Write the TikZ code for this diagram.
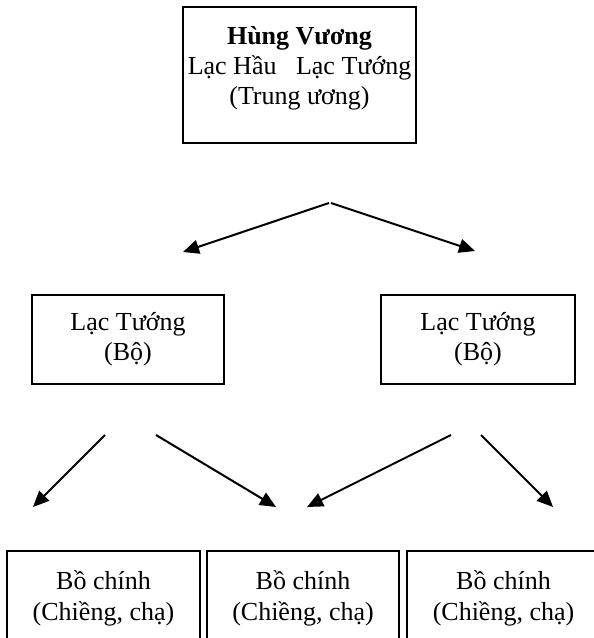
\documentclass[tikz,border=0pt]{standalone}
\usepackage{fontspec}
\setmainfont{Liberation Serif}
\usepackage{tikz}
\usetikzlibrary{arrows.meta}

\newcommand{\boxfont}{\fontsize{26pt}{30pt}\selectfont}

\begin{document}
\begin{tikzpicture}[x=1pt, y=1pt]
            \tikzstyle{unit} = [draw=black, line width=1.8pt, minimum height=89pt, inner sep=0pt, align=center, font=\boxfont];
            \tikzstyle{label} = [anchor=north, inner sep=0pt, align=center, font=\boxfont];
            \tikzstyle{link} = [line width=2pt, -{Triangle[length=16pt, width=14pt]}];
            \useasboundingbox (0,0) rectangle (594,638);

            % trung uong
            \node [unit, minimum width=233pt, minimum height=136pt] (HV) at (299.5,563) {};
            \node [label] (HVtext) at (299.5,612) {\textbf{Hùng Vương}\\Lạc Hầu\ \ \ Lạc Tướng\\(Trung ương)};

            % bo
            \node [unit, minimum width=192pt] (LT1) at (128,298.5) {Lạc Tướng\\(Bộ)};
            \node [unit, minimum width=194pt] (LT2) at (478,298.5) {Lạc Tướng\\(Bộ)};

            % chieng, cha
            \node [unit, minimum width=193pt, minimum height=100pt] (BC1) at (103.5,37) {};
            \node [unit, minimum width=192pt, minimum height=100pt] (BC2) at (303,37) {};
            \node [unit, minimum width=193pt, minimum height=100pt] (BC3) at (503.5,37) {};
            \foreach \i in {1, 2, 3}
                \node [label] (BC\i text) at (BC\i.north |- 0,68) {Bồ chính\\[1pt](Chiềng, chạ)};

            \coordinate (HVa) at (329,435);
            \coordinate (HVb) at (331,435);
            \coordinate (LT1a) at (105,203);
            \coordinate (LT1b) at (156,203);
            \coordinate (LT2a) at (451,203);
            \coordinate (LT2b) at (481,203);
            \coordinate (HVtoLT1) at (183,386);
            \coordinate (HVtoLT2) at (475,387);
            \coordinate (toBC1) at (33,131);
            \coordinate (toBC2a) at (276,131);
            \coordinate (toBC2b) at (307,131);
            \coordinate (toBC3) at (553,131);

            \draw [link] (HVa) to (HVtoLT1);
            \draw [link] (HVb) to (HVtoLT2);
            \draw [link] (LT1a) to (toBC1);
            \draw [link] (LT1b) to (toBC2a);
            \draw [link] (LT2a) to (toBC2b);
            \draw [link] (LT2b) to (toBC3);
        \end{tikzpicture}
\end{document}
